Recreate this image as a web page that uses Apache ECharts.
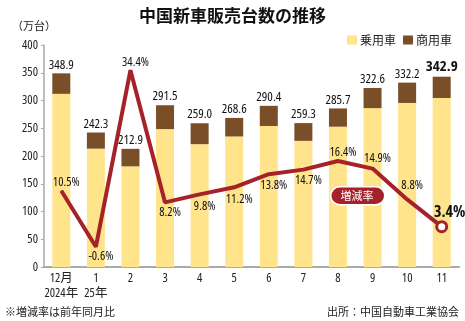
<!DOCTYPE html>
<html><head><meta charset="utf-8">
<script src="https://cdn.jsdelivr.net/npm/echarts@6/dist/echarts.min.js"></script>
<style>html,body{margin:0;padding:0;background:#fff}#c{width:465px;height:321px}</style>
</head><body><div id="c"></div>
<script>
const categories = ['12月\n2024年', '1\n25年', '2', '3', '4', '5', '6', '7', '8', '9', '10', '11'];
const totals = [348.9, 242.3, 212.9, 291.5, 259.0, 268.6, 290.4, 259.3, 285.7, 322.6, 332.2, 342.9];
const passenger = [312.0, 213.2, 181.4, 248.5, 221.3, 235.2, 254.0, 227.3, 252.8, 286.3, 295.6, 304.5];
const growth = [10.5, -0.6, 34.4, 8.2, 9.8, 11.2, 13.8, 14.7, 16.4, 14.9, 8.8, 3.4];
const yTicks = [0, 50, 100, 150, 200, 250, 300, 350, 400];

// label placement (style only): vertical offset of each growth label from its point
const growthLabelDy = [-8, 10, -8, 10, 12, 12, 11, 11, -9, -10, -14, -14];

const commercial = totals.map((t, i) => +(t - passenger[i]).toFixed(1));
const NUM = "'Open Sans','Noto Sans CJK JP',sans-serif";
const JP = "'Noto Sans CJK JP',sans-serif";
const COND = 'condensed';
const RED = '#a6222b';

const chart = echarts.init(document.getElementById('c'), null, {renderer: 'canvas'});
chart.setOption({
  animation: false,
  title: {
    text: '中国新車販売台数の推移', left: 'center', top: 2,
    textStyle: {fontFamily: JP, fontSize: 17, fontWeight: 'bold', color: '#111'}
  },
  legend: {
    right: 8, top: 29, itemWidth: 10, itemHeight: 9, itemGap: 7,
    textStyle: {fontFamily: JP, fontSize: 12, color: '#222', padding: [0, 0, 0, -2]},
    data: [{name: '乗用車', icon: 'rect'}, {name: '商用車', icon: 'rect'}]
  },
  grid: {left: 44, right: 6, top: 45, bottom: 54},
  xAxis: {
    type: 'category', data: categories,
    axisLine: {lineStyle: {color: '#aaaaaa', width: 2}},
    axisTick: {show: false},
    axisLabel: {fontFamily: NUM, fontStyle: COND, fontSize: 12.5, color: '#222', margin: 3.5, lineHeight: 15, interval: 0}
  },
  yAxis: [{
    type: 'value', min: 0, max: 400, interval: 50,
    axisLine: {show: true, lineStyle: {color: '#aaaaaa', width: 1.5}},
    axisTick: {show: true, length: 3, lineStyle: {color: '#aaaaaa'}},
    splitLine: {show: false},
    axisLabel: {fontFamily: NUM, fontStyle: COND, fontSize: 12.5, color: '#222', margin: 6,
      formatter: v => yTicks.includes(v) ? String(v) : ''}
  }, {
    type: 'value', min: -4.6, max: 39.4, show: false, splitLine: {show: false}
  }],
  graphic: [
    {type: 'text', left: 12, top: 20, style: {text: '（万台）', font: '11px ' + JP, fill: '#222'}},
    {type: 'text', left: 5, top: 306, style: {text: '※増減率は前年同月比', font: '11px ' + JP, fill: '#222'}},
    {type: 'text', right: 6, top: 306, style: {text: '出所：中国自動車工業協会', font: '11px ' + JP, fill: '#222'}},
    {type: 'rect', left: 330, top: 186, z: 100,
      shape: {width: 54, height: 18, r: 9},
      style: {fill: RED, stroke: '#fff', lineWidth: 1.5}},
    {type: 'text', x: 357, y: 195.5, z: 101,
      style: {text: '増減率', font: '11px ' + JP, fill: '#fff', align: 'center', verticalAlign: 'middle'}}
  ],
  series: [
    {
      name: '乗用車', type: 'bar', stack: 's', data: passenger, barWidth: 18,
      itemStyle: {color: '#ffe48b'}
    },
    {
      name: '商用車', type: 'bar', stack: 's', barWidth: 18,
      data: commercial.map((v, i) => i === commercial.length - 1
        ? {value: v, label: {fontWeight: 'bold', fontSize: 15}} : v),
      itemStyle: {color: '#7a4e26'},
      label: {
        show: true, position: 'top', distance: 2,
        fontFamily: NUM, fontStyle: COND, fontSize: 13, color: '#111',
        formatter: p => totals[p.dataIndex].toFixed(1)
      },
      emphasis: {disabled: true}
    },
    {
      name: '増減率', type: 'line', yAxisIndex: 1, z: 10,
      symbol: 'circle', symbolSize: 1, showSymbol: true,
      data: growth.map((g, i) => {
        const last = i === growth.length - 1;
        return {
          value: g,
          symbolSize: last ? 10 : 1,
          itemStyle: last ? {color: '#fff', borderColor: RED, borderWidth: 3} : {color: RED},
          label: {
            show: true,
            position: 'inside',
            offset: last ? [8, growthLabelDy[i]] : [5, growthLabelDy[i]],
            fontFamily: NUM, fontStyle: COND,
            fontSize: last ? 16 : 12.5,
            fontWeight: last ? 'bold' : 'normal',
            color: '#111',
            formatter: g + '%'
          }
        };
      }),
      lineStyle: {color: RED, width: 4},
      itemStyle: {color: RED},
      emphasis: {disabled: true}
    }
  ]
});
</script>
</body></html>
